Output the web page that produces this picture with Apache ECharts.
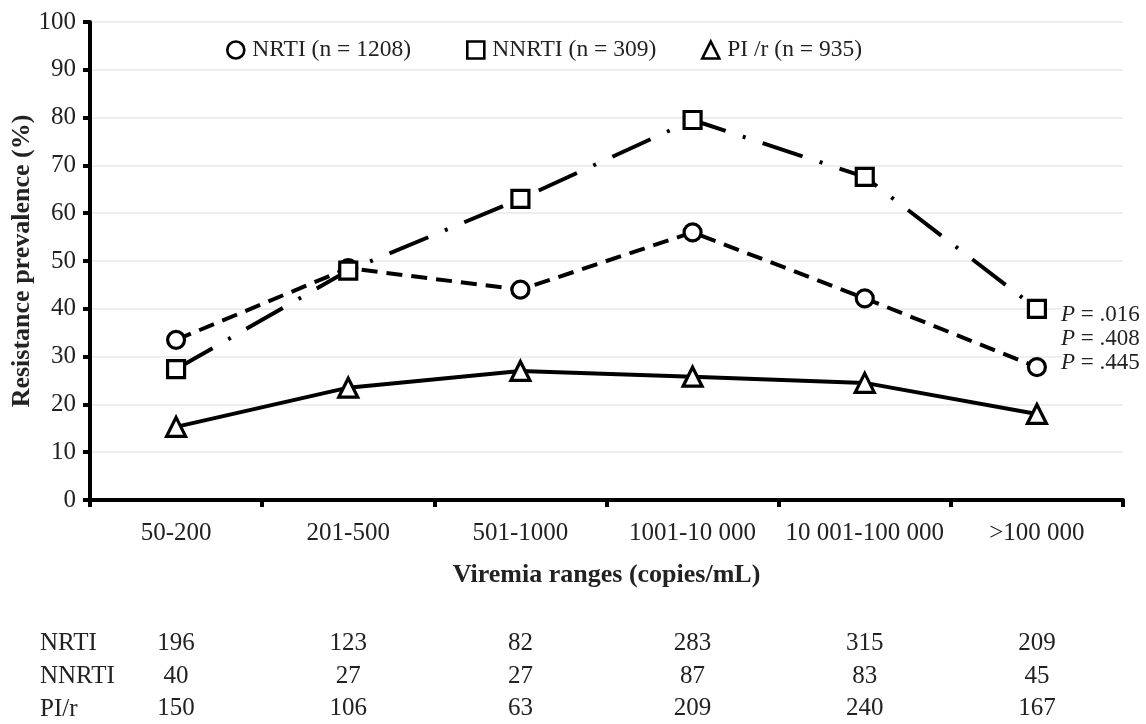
<!DOCTYPE html>
<html><head><meta charset="utf-8">
<script src="https://cdn.jsdelivr.net/npm/echarts@6/dist/echarts.min.js"></script>
<style>html,body{margin:0;padding:0;background:#fff}#c{width:1146px;height:724px}</style>
</head><body><div id="c"></div>
<script>
var categories = ['50-200','201-500','501-1000','1001-10 000','10 001-100 000','>100 000'];
var nrti = [33.5, 48.5, 44, 56, 42.2, 27.8];
var nnrti = [27.4, 48, 63, 79.5, 67.6, 40];
var pir = [15.3, 23.5, 27, 25.8, 24.5, 18];
var nrtiN = [196, 123, 82, 283, 315, 209];
var nnrtiN = [40, 27, 27, 87, 83, 45];
var pirN = [150, 106, 63, 209, 240, 167];
var seriesNames = ['NRTI (n = 1208)', 'NNRTI (n = 309)', 'PI /r (n = 935)'];
var rowLabels = ['NRTI', 'NNRTI', 'PI/r'];
var pLabels = ['.016', '.408', '.445'];

var FONT = 'Liberation Serif';
var TXT = '#222';
var FS = 25;
var chart = echarts.init(document.getElementById('c'));

function countAxis(arr, offset) {
  return {
    type: 'category', data: categories, position: 'bottom', offset: offset,
    axisLine: {show: false}, axisTick: {show: false}, splitLine: {show: false},
    axisLabel: {fontFamily: FONT, fontSize: FS, color: TXT, margin: 0, interval: 0,
      formatter: function (v, i) { return String(arr[i]); }}
  };
}
function lineSeries(name, data, symbol, dash) {
  return {
    name: name, type: 'line', data: data, symbol: symbol, symbolSize: symbol === 'triangle' ? 19 : 17,
    lineStyle: {color: '#000', width: 4, type: dash},
    itemStyle: {color: '#fff', borderColor: '#000', borderWidth: 3.2},
    emphasis: {disabled: true}, z: 3
  };
}
var icons = ['circle', 'rect', 'triangle'];
var legendLefts = [221, 461, 696];
var legends = seriesNames.map(function (n, i) {
  return {
    top: 33, left: legendLefts[i], itemWidth: 17, itemHeight: 17, itemGap: 0,
    textStyle: {fontFamily: FONT, fontSize: 23.5, color: TXT, padding: [0, 0, 0, 3]},
    data: [{name: n, icon: icons[i], itemStyle: {color: '#fff', borderColor: '#000', borderWidth: 2.6}}]
  };
});
chart.setOption({
  animation: false,
  backgroundColor: '#fff',
  grid: {left: 90, right: 23, top: 22, bottom: 224, outerBoundsMode: 'none', containLabel: false},
  legend: legends,
  xAxis: [
    {
      type: 'category', data: categories, boundaryGap: true,
      axisLine: {lineStyle: {color: '#000', width: 4}},
      axisTick: {show: true, length: 7, lineStyle: {color: '#000', width: 4}},
      axisLabel: {fontFamily: FONT, fontSize: FS, color: TXT, margin: 21, interval: 0},
      name: 'Viremia ranges (copies/mL)', nameLocation: 'middle', nameGap: 62, nameMoveOverlap: false,
      nameTextStyle: {fontFamily: FONT, fontSize: 26, fontWeight: 'bold', color: TXT}
    },
    countAxis(nrtiN, 131),
    countAxis(nnrtiN, 164),
    countAxis(pirN, 196)
  ],
  yAxis: {
    type: 'value', min: 0, max: 100, interval: 10,
    axisLine: {show: true, lineStyle: {color: '#000', width: 4}},
    axisTick: {show: true, length: 7, lineStyle: {color: '#000', width: 4}},
    axisLabel: {fontFamily: FONT, fontSize: FS, color: TXT, margin: 14},
    splitLine: {lineStyle: {color: '#eeeeee', width: 2}},
    name: 'Resistance prevalence (%)', nameLocation: 'middle', nameGap: 55, nameRotate: 90,
    nameMoveOverlap: false,
    nameTextStyle: {fontFamily: FONT, fontSize: 26, fontWeight: 'bold', color: TXT}
  },
  series: [
    lineSeries(seriesNames[0], nrti, 'circle', [16, 9]),
    lineSeries(seriesNames[1], nnrti, 'rect', [42, 18, 3, 18]),
    lineSeries(seriesNames[2], pir, 'triangle', 'solid')
  ],
  graphic: rowLabels.map(function (t, i) {
    return {type: 'text', left: 40, top: 631 + i * 33,
      style: {text: t, fontFamily: FONT, fontSize: FS, fill: TXT}};
  }).concat(pLabels.map(function (t, i) {
    return {type: 'text', left: 1061, top: 303 + i * 24, z: 10,
      style: {text: '{i|P} = ' + t, fontFamily: FONT, fontSize: 23, fill: TXT,
        backgroundColor: '#fff',
        rich: {i: {fontStyle: 'italic', fontFamily: FONT, fontSize: 23, fill: TXT}}}};
  }))
});
</script></body></html>
